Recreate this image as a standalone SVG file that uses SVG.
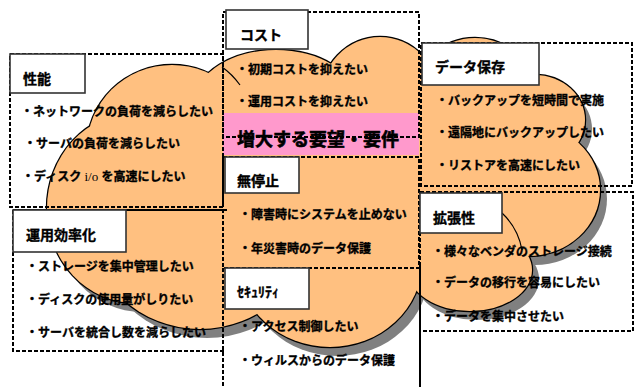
<svg xmlns="http://www.w3.org/2000/svg" width="634" height="387" viewBox="0 0 634 387">
<defs>
<style>
.t{font-family:'Noto Sans CJK JP','Noto Sans',sans-serif;font-weight:bold;font-size:12px;fill:#000;stroke:#000;stroke-width:0.35}
.h{font-size:14px}
.big{font-size:18px;stroke-width:0.6}
.io{font-family:'Liberation Serif',serif;font-weight:normal;font-size:13px;stroke-width:0}
.dash{fill:none;stroke:#000;stroke-width:2;stroke-dasharray:4 2}
.lab{fill:#fff;stroke:#333;stroke-width:1.6}
.arc{fill:none;stroke:#000;stroke-width:1.2}
</style>
<g id="lobes">
<ellipse cx="172" cy="148" rx="85" ry="83"/>
<ellipse cx="135" cy="208" rx="88" ry="95"/>
<ellipse cx="200" cy="225" rx="110" ry="104"/>
<ellipse cx="276" cy="100" rx="80" ry="50"/>
<ellipse cx="380" cy="100" rx="60" ry="63"/>
<ellipse cx="475" cy="95" rx="60" ry="57"/>
<ellipse cx="535" cy="120" rx="50" ry="45"/>
<ellipse cx="528" cy="190" rx="72" ry="66"/>
<ellipse cx="470" cy="270" rx="62" ry="41"/>
<ellipse cx="330" cy="262" rx="92" ry="85"/>
<polygon points="100,140 200,90 300,70 420,70 520,110 560,190 520,250 420,280 300,300 150,280 80,210"/>
</g>
</defs>
<g id="cloud">
<use href="#lobes" transform="translate(7,9)" fill="#808080"/>
<use href="#lobes" fill="#000" stroke="#000" stroke-width="2.4"/>
<use href="#lobes" fill="#FFC080"/>
<path class="arc" d="M222,67 Q232,74 240,85"/>
<path class="arc" d="M502,213 Q518,228 522,250"/>
</g>
<g id="banner">
<rect x="223" y="113" width="196" height="42" fill="#FF99CC"/>
<text class="t big" x="237" y="146">増大する要望・要件</text>
</g>
<g id="node-performance">
<rect class="dash" x="10" y="54" width="213" height="153"/>
<rect class="lab" x="10" y="54" width="75" height="39"/>
<text class="t h" x="23" y="84">性能</text>
<text class="t" x="21" y="116">・ネットワークの負荷を減らしたい</text>
<text class="t" x="24" y="148">・サーバの負荷を減らしたい</text>
<text class="t" x="22" y="181">・ディスク<tspan class="io"> i/o </tspan>を高速にしたい</text>
</g>
<g id="node-cost">
<rect class="dash" x="223" y="12" width="196" height="125"/>
<rect class="lab" x="226" y="10" width="82" height="39"/>
<text class="t h" x="240" y="40">コスト</text>
<text class="t" x="236" y="74">・初期コストを抑えたい</text>
<text class="t" x="236" y="106">・運用コストを抑えたい</text>
</g>
<g id="node-storage">
<rect class="dash" x="421" y="43" width="211" height="143"/>
<rect class="lab" x="422" y="43" width="117" height="42"/>
<text class="t h" x="435" y="72">データ保存</text>
<text class="t" x="436" y="105">・バックアップを短時間で実施</text>
<text class="t" x="436" y="137">・遠隔地にバックアップしたい</text>
<text class="t" x="436" y="170">・リストアを高速にしたい</text>
</g>
<g id="node-efficiency">
<path class="dash" d="M13,210 V351 H224"/>
<path d="M13,210 H227" stroke="#000" stroke-width="2" fill="none"/>
<rect class="lab" x="13" y="210" width="113" height="42"/>
<text class="t h" x="26" y="240">運用効率化</text>
<text class="t" x="26" y="271">・ストレージを集中管理したい</text>
<text class="t" x="26" y="304">・ディスクの使用量がしりたい</text>
<text class="t" x="26" y="337">・サーバを統合し数を減らしたい</text>
</g>
<g id="node-nonstop">
<rect class="dash" x="223" y="157" width="196" height="111"/>
<rect class="lab" x="225" y="157" width="74" height="36"/>
<text class="t h" x="237" y="186">無停止</text>
<text class="t" x="239" y="219">・障害時にシステムを止めない</text>
<text class="t" x="239" y="253">・年災害時のデータ保護</text>
</g>
<g id="node-security">
<path class="dash" d="M223,268 V387"/>
<path d="M420,262 V387" stroke="#000" stroke-width="2" fill="none"/>
<rect class="lab" x="225" y="268" width="84" height="41"/>
<text class="t h" x="237" y="297">ｾｷｭﾘﾃｨ</text>
<text class="t" x="239" y="331">・アクセス制御したい</text>
<text class="t" x="239" y="365">・ウィルスからのデータ保護</text>
</g>
<g id="node-scalability">
<rect class="dash" x="420" y="192" width="213" height="139"/>
<rect class="lab" x="420" y="193" width="82" height="40"/>
<text class="t h" x="433" y="223">拡張性</text>
<text class="t" x="432" y="256">・様々なベンダのストレージ接続</text>
<text class="t" x="432" y="287">・データの移行を容易にしたい</text>
<text class="t" x="432" y="321">・データを集中させたい</text>
</g>
</svg>
